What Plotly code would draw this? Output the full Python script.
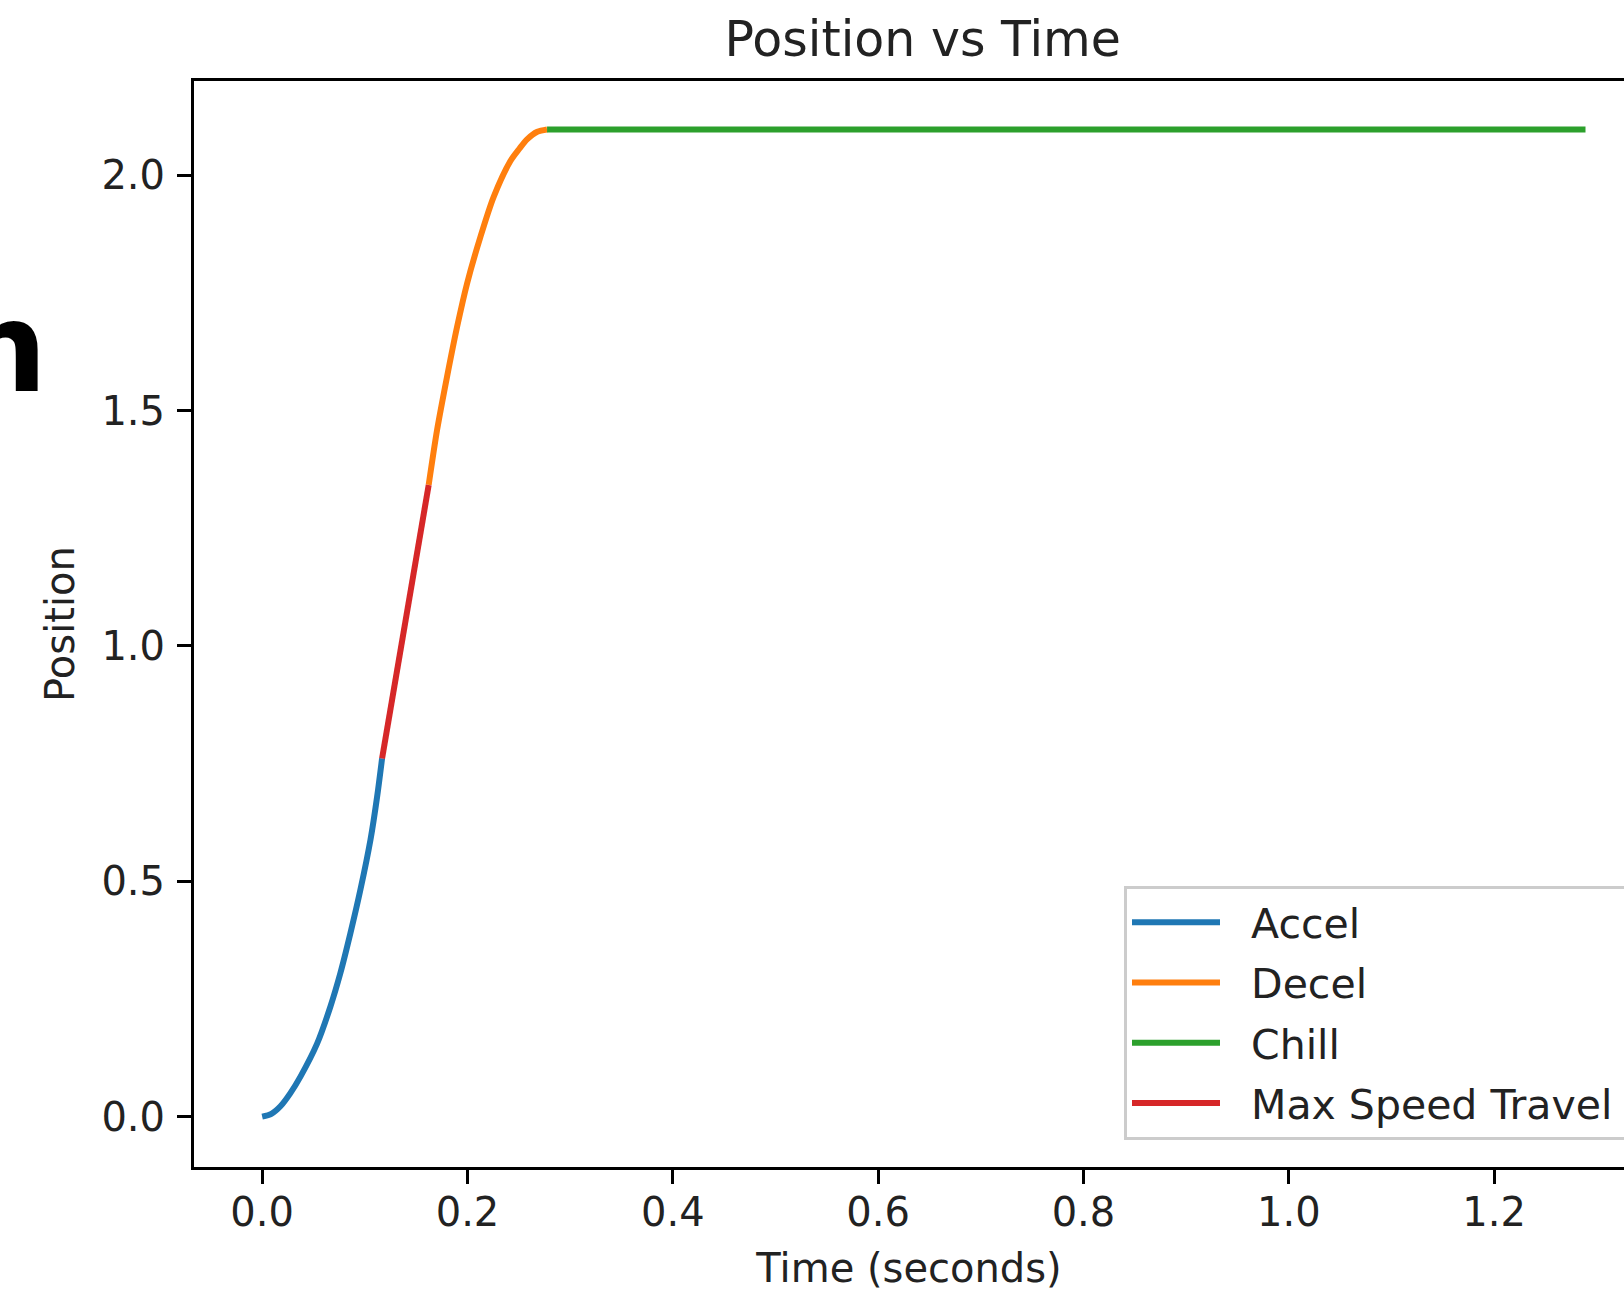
import plotly.graph_objects as go

# ---- data ----
accel_t = [0.0, 0.009, 0.0178, 0.0275, 0.0373, 0.0535, 0.0665, 0.0762, 0.086, 0.0957, 0.1055, 0.112, 0.1168]
accel_pos = [0.0, 0.006, 0.022, 0.05, 0.085, 0.155, 0.234, 0.305, 0.39, 0.482, 0.588, 0.68, 0.761]

decel_t = [0.1622, 0.1704, 0.1801, 0.1899, 0.1996, 0.2126, 0.2255, 0.2418, 0.2505, 0.258, 0.268, 0.2775]
decel_pos = [1.342, 1.459, 1.572, 1.678, 1.77, 1.869, 1.954, 2.030, 2.056, 2.076, 2.092, 2.097]

chill_t = [0.2775, 1.289]
chill_pos = [2.097, 2.097]

maxspeed_t = [0.1168, 0.1622]
maxspeed_pos = [0.761, 1.342]

x_ticks = [0.0, 0.2, 0.4, 0.6, 0.8, 1.0, 1.2]
y_ticks = [0.0, 0.5, 1.0, 1.5, 2.0]

FONT = "DejaVu Sans"
TXT = "#222222"
W, H = 1624, 1291
ML, MT, MB, MR = 194, 81, 124, 0
PW, PH = W - ML - MR, H - MT - MB

fig = go.Figure()
series = [
    ("Accel", accel_t, accel_pos, "#1f77b4"),
    ("Decel", decel_t, decel_pos, "#ff7f0e"),
    ("Chill", chill_t, chill_pos, "#2ca02c"),
    ("Max Speed Travel", maxspeed_t, maxspeed_pos, "#d62728"),
]
for name, t, p, c in series:
    fig.add_trace(go.Scatter(
        x=t, y=p, mode="lines", name="\u00a0\u00a0" + name + "\u00a0\u00a0", legendgroup=name,
        line=dict(color=c, width=6, shape="spline", smoothing=0.8),
    ))

axis_common = dict(
    showgrid=False, zeroline=False,
    showline=True, linecolor="black", linewidth=3,
    ticks="outside", ticklen=14, tickwidth=3, tickcolor="black",
    tickfont=dict(family=FONT, size=40, color=TXT),
    tickformat=".1f",
)

fig.update_layout(
    width=W, height=H,
    margin=dict(l=ML, r=MR, t=MT, b=MB, autoexpand=False),
    paper_bgcolor="white", plot_bgcolor="white",
    font=dict(family=FONT, color=TXT),
    title=dict(
        text="Position vs Time",
        font=dict(family=FONT, size=49, color=TXT),
        xref="paper", x=0.5096, xanchor="center",
        yref="container", y=1 - 22 / H, yanchor="top",
    ),
    xaxis=dict(
        range=[-0.0664, 1.3265], tickvals=x_ticks, mirror=True,
        title=dict(text="Time (seconds)", font=dict(family=FONT, size=40, color=TXT), standoff=26),
        ticklabelstandoff=-6,
        **axis_common,
    ),
    yaxis=dict(
        range=[-0.107, 2.2], tickvals=y_ticks, mirror=False,
        title=dict(text="Position", font=dict(family=FONT, size=40, color=TXT), standoff=15),
        ticklabelstandoff=4,
        **axis_common,
    ),
    legend=dict(
        x=(1124 - ML) / PW, xanchor="left",
        y=(1167 - 886) / PH, yanchor="top",
        bgcolor="rgba(255,255,255,0.8)",
        bordercolor="#cccccc", borderwidth=3,
        font=dict(family=FONT, size=41, color=TXT),
        itemwidth=88,
        tracegroupgap=4,
        traceorder="grouped",
    ),
    showlegend=True,
)

fig.add_annotation(
    text="<b>n</b>", xref="paper", yref="paper",
    x=(49 - ML) / PW, xanchor="right",
    y=(1167 - 348) / PH, yanchor="middle",
    showarrow=False,
    font=dict(family=FONT, size=124, color="black"),
)

fig.write_html(
    "out.html",
    config={"displayModeBar": False},
    post_script="document.body.style.margin='0';document.body.style.overflow='hidden';",
)
